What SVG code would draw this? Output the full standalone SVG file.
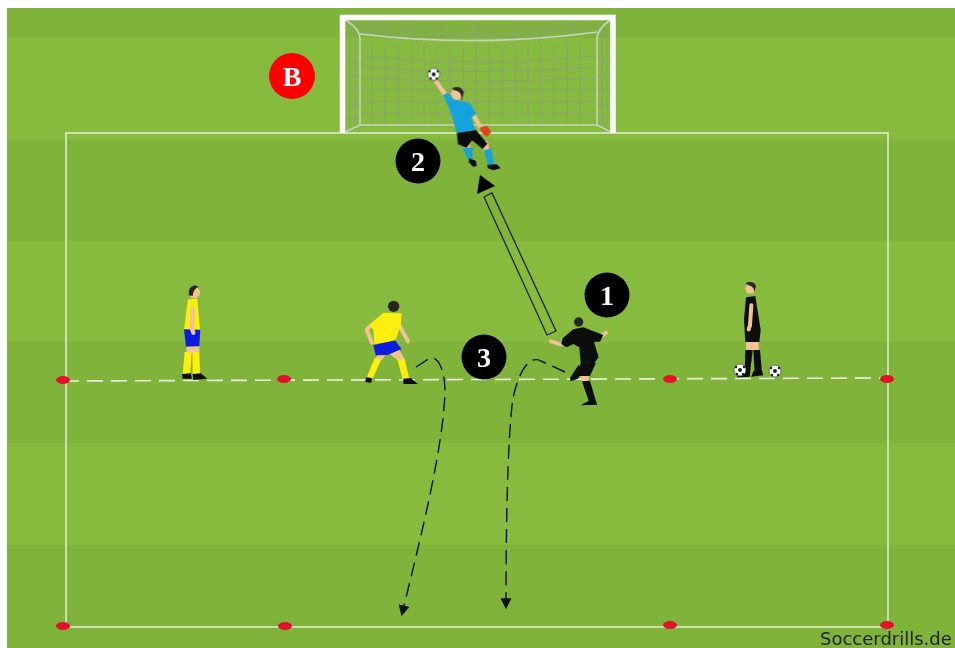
<svg xmlns="http://www.w3.org/2000/svg" width="955" height="648" viewBox="0 0 955 648">
<style>
.light{fill:#86bb3e}.dark{fill:#7fb33a}
.line{fill:none;stroke:#e6efd6;stroke-width:1.5}
.post{fill:none;stroke:#fff;stroke-linejoin:miter}
.net{fill:none;stroke:#8f9b86;stroke-width:.8}
.back{fill:none;stroke:#c9d2c0;stroke-width:1.6}
.cone{fill:#e5102e}
.badge{fill:#000}
.num{font-family:"Liberation Serif",serif;font-weight:bold;font-size:28px;fill:#fff;text-anchor:middle}
.skin{fill:#f2c296}.hair{fill:#2b2622}.blk{fill:#0c0c0c}.yel{fill:#fcee0a}.blu{fill:#0a1ee0}.sky{fill:#12a3dd}
.limb{fill:none;stroke-linecap:round;stroke-linejoin:round}
.run{fill:none;stroke:#111;stroke-width:1.4;stroke-dasharray:14 7}
.soft{filter:url(#soft)}
</style>
<defs>
<filter id="soft" x="-10%" y="-10%" width="120%" height="120%"><feGaussianBlur stdDeviation=".45"/></filter>
<marker id="tip" viewBox="0 0 10 10" refX="8" refY="5" markerWidth="11" markerHeight="11" markerUnits="userSpaceOnUse" orient="auto"><path d="M0 0L10 5L0 10Z" fill="#111"/></marker>
<g id="ballshape"><circle r="6" fill="#fff" stroke="#333" stroke-width=".6"/><circle r="2" fill="#222"/><circle cx="-4" cy="-3" r="1.2" fill="#222"/><circle cx="4" cy="-3" r="1.2" fill="#222"/><circle cx="-3" cy="4" r="1.2" fill="#222"/><circle cx="3" cy="4" r="1.2" fill="#222"/></g>
</defs>
<rect width="955" height="648" fill="#fff"/>
<g id="pitch">
<rect class="dark" x="7" y="8" width="948" height="30"/>
<rect class="light" x="7" y="38" width="948" height="101"/>
<rect class="dark" x="7" y="139" width="948" height="102"/>
<rect class="light" x="7" y="241" width="948" height="101"/>
<rect class="dark" x="7" y="342" width="948" height="101"/>
<rect class="light" x="7" y="443" width="948" height="102"/>
<rect class="dark" x="7" y="545" width="948" height="103"/>
<rect class="line" x="66" y="133" width="822" height="494"/>
<path d="M63 381L887 378" fill="none" stroke="#eef2e2" stroke-width="1.6" stroke-dasharray="16 8"/>
</g>
<g id="goal" class="soft">
<path class="net" d="M372 42V127M385 43V127M398 44V127M411 45V127M424 45V127M437 46V127M450 46V127M463 46V127M476 46V127M489 46V127M502 46V127M515 46V127M528 45V127M541 45V127M554 44V127M567 43V127M580 42V127M350 30V130M355 33V129M602 33V129M607 30V130"/>
<path class="net" d="M360 56Q478 68 597 56M360 67Q478 76 597 67M360 78Q478 84 597 78M360 90H597M360 101H597M360 113H597M346 60L360 62M346 75L360 76M346 90L360 90M346 105L360 104M346 118L360 116M597 62L610 60M597 76L610 75M597 90L610 90M597 104L610 105M597 116L610 118"/>
<path class="net" d="M346 24Q478 31 610 24M350 29Q478 37 606 29M355 33Q478 42 601 33M380 21L392 44M410 21L418 46M440 21L443 47M478 21V47M516 21L513 47M546 21L538 46M576 21L565 44"/>
<path class="back" d="M345 20Q360 28 360 40V125L345 132M611 20Q597 28 597 40V125L611 132M360 34Q478 48 597 32M360 125H597"/>
<path class="post" stroke-width="5.5" d="M342.5 133V17.5H613V133"/>
</g>
<g id="cones">
<ellipse class="cone" cx="63" cy="380" rx="7" ry="4"/><ellipse class="cone" cx="284" cy="379" rx="7" ry="4"/><ellipse class="cone" cx="670" cy="379" rx="7" ry="4"/><ellipse class="cone" cx="887" cy="379" rx="7" ry="4"/>
<ellipse class="cone" cx="63" cy="626" rx="7" ry="4"/><ellipse class="cone" cx="285" cy="626" rx="7" ry="4"/><ellipse class="cone" cx="670" cy="625" rx="7" ry="4"/><ellipse class="cone" cx="887" cy="625" rx="7" ry="4"/>
</g>
<g id="connectors">
<path id="pass" d="M484 197L492 193L556 331L547 335Z" fill="none" stroke="#222" stroke-width="1.3"/>
<path d="M480 175L495 186L477 194Z" fill="#000"/>
<path class="run" marker-end="url(#tip)" d="M416 367L430 358C438 356 445 370 445 392C443 450 420 540 402 614"/>
<path class="run" marker-end="url(#tip)" d="M565 372L541 361C528 354 518 375 513 398C507 440 506 540 506 607"/>
</g>
<g id="goalkeeper" class="soft" transform="translate(330,5) scale(.3333)">
<path class="limb" stroke="#f2c296" stroke-width="13" d="M320 232L344 266"/>
<path class="limb" stroke="#f2c296" stroke-width="13" d="M430 330L452 368"/>
<path d="M448 368L470 362L484 380L472 396L456 384Z" fill="#e0401c"/>
<path class="limb" stroke="#f2c296" stroke-width="17" d="M412 415L412 435M466 415L470 438"/>
<path d="M398 428L428 428L426 464L414 464Z" class="sky"/><path d="M462 436L484 430L492 480L474 480Z" class="sky"/>
<path class="blk" d="M418 460L438 468L440 482L430 486L416 472ZM472 480L500 478L512 490L490 496L474 490Z"/>
<path class="blk" d="M380 380L437 374L472 416L458 432L426 406L410 428L384 418Z"/>
<path class="sky" d="M340 270L352 264L385 288L420 294L438 326L424 338L436 376L380 384L364 326Z"/>
<circle class="skin" cx="380" cy="268" r="17"/><path class="hair" d="M366 250Q390 238 402 262L394 288Q396 262 382 258Q372 258 366 250Z"/>
<use href="#ballshape" transform="translate(311,208) scale(3)"/>
</g>
<g id="player-yellow-left" class="soft" transform="translate(160,270) scale(.3333)">
<circle class="skin" cx="103" cy="68" r="17"/><path class="hair" d="M86 76Q84 48 106 46L116 50Q100 56 98 78Z"/>
<path class="yel" d="M84 88L112 86L120 178L72 178Z"/>
<path class="blu" d="M72 178L121 180L118 228L78 230Z"/>
<path class="skin" d="M80 230H118V250H78Z"/>
<path class="yel" d="M74 246L95 246L91 312L68 312ZM97 246L118 246L120 312L98 312Z"/>
<path class="blk" d="M66 312L92 310L96 326L68 326ZM98 312L122 310L142 326L100 330Z"/>
<path class="limb" stroke="#f2c296" stroke-width="13" d="M98 116L96 176L100 188"/>
</g>
<g id="player-yellow-mid" class="soft" transform="translate(340,270) scale(.3333)">
<path class="limb" stroke="#f2c296" stroke-width="12" d="M90 168L80 180L96 218"/>
<path class="limb" stroke="#f2c296" stroke-width="12" d="M172 155L204 214"/>
<circle class="hair" cx="161" cy="109" r="17"/>
<path class="yel" d="M88 164L130 128L185 130L182 168L165 214L103 222L100 180Z"/>
<path class="blu" d="M100 226L165 211L185 238L145 254L108 258Z"/>
<path class="skin" d="M110 256H136L124 272H104ZM150 252L178 240L196 270H172Z"/>
<path class="yel" d="M104 264L124 268L98 326L80 322ZM172 268L194 268L208 326L188 328Z"/>
<path class="blk" d="M78 322L96 324L94 338L76 336ZM190 326L212 324L234 342L190 342Z"/>
</g>
<g id="player-black-kicker" class="soft" transform="translate(340,270) scale(.3333)">
<path class="limb" stroke="#f2c296" stroke-width="11" d="M632 214L664 224M775 205L798 188"/>
<circle class="hair" cx="716" cy="156" r="14"/>
<path class="blk" d="M664 222L668 205L700 178L730 172L790 195L780 215L762 215L776 262L762 280L722 276L718 232L700 222L680 232Z"/>
<path class="blk" d="M722 276L768 278L750 318L716 318Z"/>
<path class="skin" d="M722 318H746V334H724Z"/>
<path class="blk" d="M716 284L728 300L714 326L692 334L690 324ZM726 334L750 332L768 394L772 404L722 406L746 392Z"/>
</g>
<g id="player-black-right" class="soft" transform="translate(700,270) scale(.3333)">
<circle class="skin" cx="151" cy="56" r="15"/><path class="hair" d="M136 40Q156 30 168 46L164 66Q160 48 146 46Z"/>
<path class="blk" d="M138 82L166 78L182 180L178 216H136L132 150Z"/>
<path class="limb" stroke="#f2c296" stroke-width="12" d="M154 106L150 166L146 178"/>
<path class="skin" d="M138 216H176V240H138Z"/>
<path class="blk" d="M136 240L158 240L150 308L134 308ZM160 240L180 240L186 308L164 308Z"/>
<path class="blk" d="M114 308L150 304L150 320L112 322ZM160 304L186 302L190 316L154 320Z"/>
</g>
<g id="balls" class="soft">
<use href="#ballshape" transform="translate(740,370)"/>
<use href="#ballshape" transform="translate(775,371)"/>
</g>
<g id="badge-b"><circle cx="292" cy="76" r="23" fill="#f00"/><text class="num" x="292" y="86">B</text></g>
<g id="badge-1"><circle class="badge" cx="607" cy="295" r="22.5"/><text class="num" x="607" y="305">1</text></g>
<g id="badge-2"><circle class="badge" cx="418" cy="161" r="22.5"/><text class="num" x="418" y="171">2</text></g>
<g id="badge-3"><circle class="badge" cx="484" cy="357" r="22.5"/><text class="num" x="484" y="367">3</text></g>
<text x="820" y="645" font-family="DejaVu Sans,sans-serif" font-size="18" fill="#222">Soccerdrills.de</text>
</svg>
